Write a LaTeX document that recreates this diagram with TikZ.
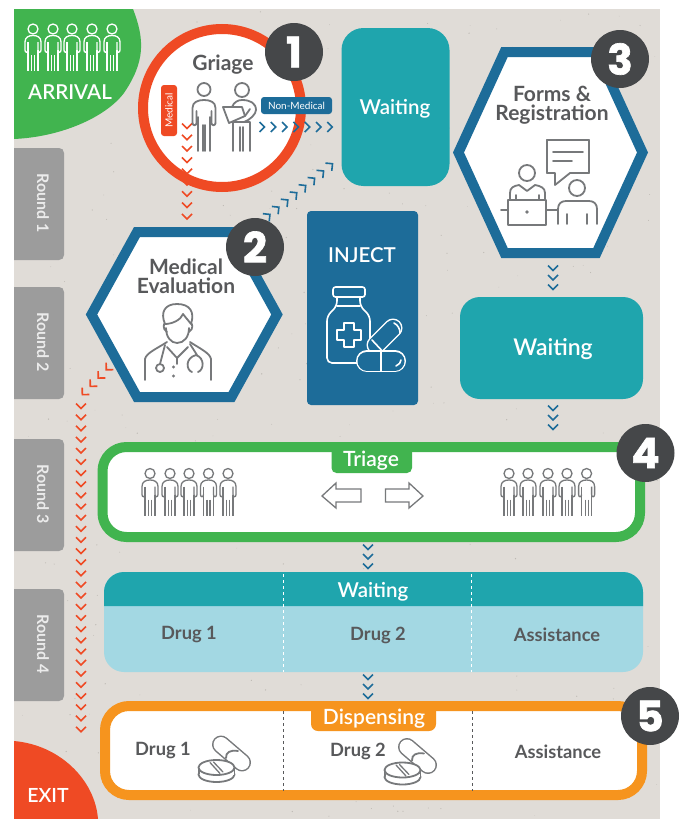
\documentclass[tikz,border=0pt]{standalone}
\usepackage{fontspec}
\setmainfont{Lato}
\newfontfamily\semi{Lato Semibold}
\newfontfamily\numfont{Poppins}[FakeBold=1.6]
\usetikzlibrary{decorations.markings}
\definecolor{bgc}{HTML}{E0DCD7}
\definecolor{speck}{HTML}{BDB9B3}
\definecolor{grn}{HTML}{41B44F}
\definecolor{redc}{HTML}{EF4A24}
\definecolor{bluec}{HTML}{1D6C99}
\definecolor{tealc}{HTML}{1FA5AD}
\definecolor{paleb}{HTML}{A3D8E3}
\definecolor{orangec}{HTML}{F6941E}
\definecolor{badgec}{HTML}{454749}
\definecolor{tabc}{HTML}{9C9C9C}
\definecolor{textc}{HTML}{58595B}
\definecolor{iconc}{HTML}{77797B}
\tikzset{
  x=1pt,y=-1pt,
  label text/.style={inner sep=0pt,text=textc,align=center,font=\fontsize{21}{19}\selectfont\bfseries},
  white text/.style={inner sep=0pt,text=white,font=\semi\fontsize{20.5}{20}\selectfont},
  cell text/.style={inner sep=0pt,text=textc,font=\fontsize{18.3}{18}\selectfont\bfseries},
  badge/.style={circle,fill=badgec,minimum size=58pt,inner sep=0pt,text=white,font=\numfont\fontsize{42}{42}\selectfont\bfseries},
  hexa/.style={draw=bluec,line width=10pt,fill=white,miter limit=10},
  frame/.style={draw=#1,line width=10pt,fill=white,rounded corners=24pt,inner sep=0pt},
  solidbox/.style={fill=#1,inner sep=0pt},
  chain/.style n args={2}{postaction={decorate,decoration={markings,
    mark=between positions 0 and 1 step #2pt with {\draw[#1,line width=1.6pt,line cap=butt,line join=miter] (-2.5,-5)--(2.5,0)--(-2.5,5);}}}},
  icon/.style={draw=iconc,line width=1.8pt,line cap=round,line join=round},
  person/.pic={
    \draw (0,5) circle (5);
    \draw (-5,26) .. controls (-5,29) and (-8,29) .. (-8,26) -- (-8,18) .. controls (-8,13) and (-4,11.5) .. (0,11.5) .. controls (4,11.5) and (8,13) .. (8,18) -- (8,26) .. controls (8,29) and (5,29) .. (5,26) -- (5,18);
    \draw (-5,18) -- (-5,47) (5,26) -- (5,47) (-1.4,31) -- (-1.4,47) (1.6,31) -- (1.6,47);
  },
  drugicon/.pic={
    \draw[iconc,line width=18pt,line cap=round] (4.5,-23) -- (25.5,-5);
    \draw[white,line width=15pt,line cap=round] (4.5,-23) -- (25.5,-5);
    \draw[icon] (9.5,-9.5) .. controls (9,-15) and (14,-18) .. (21.5,-16.5);
    \draw[icon,fill=white] (0,7) ellipse (18 and 7.5);
    \fill[white] (-17,0) rectangle (17,7);
    \draw[icon] (-18,0) -- (-18,7) (18,0) -- (18,7);
    \draw[icon,fill=white] (0,0) ellipse (18 and 7.5);
    \draw[icon,line width=1.3pt] (-6.5,-5) -- (3.5,6) (-3,-5.5) -- (6.5,4.5);
  }
}
\begin{document}
\begin{tikzpicture}
\useasboundingbox (0,0) rectangle (681,819);
\fill[bgc] (14,9) rectangle (660,819);
% speckle texture
\pgfmathsetseed{7}
\foreach \i in {1,...,420}{
  \pgfmathsetmacro\px{16+rnd*642}
  \pgfmathsetmacro\py{11+rnd*806}
  \pgfmathsetmacro\pr{0.25+rnd*0.45}
  \fill[speck] (\px,\py) circle (\pr);
}
% corners
\fill[grn] (14,9) -- (133,9) .. controls (145,40) and (145,62) .. (124,93) .. controls (105,118) and (60,137) .. (14,139) -- cycle;
\fill[redc] (14,819) -- (14,741) .. controls (60,745) and (95,780) .. (98,819) -- cycle;
\foreach \px in {33,53,72,92,112}{
  \pic[draw=white,line width=1.3pt] at (\px,24) {person};
}
\node[white text] (arrival) at (70,92) {ARRIVAL};
\node[white text,font=\semi\fontsize{19.5}{18}\selectfont] (exit) at (48,795) {EXIT};
% round tabs
\foreach \yt/\n in {148/1,287/2,439/3,589/4}{
  \fill[tabc] (14,\yt) -- (59,\yt) .. controls (62,\yt) and (64,\yt+2) .. (64,\yt+5) -- (64,\yt+107) .. controls (64,\yt+110) and (62,\yt+112) .. (59,\yt+112) -- (14,\yt+112) -- cycle;
  \node[inner sep=0pt,rotate=-90,text=white!92!black,font=\fontsize{16}{16}\selectfont\bfseries] (round\n) at (43,\yt+55) {Round \n};
}
% chevron chains end points
\coordinate (medA) at (187,126);
\coordinate (medB) at (187,218);
\coordinate (nmA) at (262,127);
\coordinate (nmB) at (331,127);
\coordinate (diagA) at (268,216);
\coordinate (diagB) at (331,165);
\coordinate (evA) at (108,368);
\coordinate (evB) at (81,396);
\coordinate (evC) at (81,406);
\coordinate (evD) at (81,731);
\coordinate (fA) at (553,268);
\coordinate (fB) at (553,289);
\coordinate (wA) at (553,408);
\coordinate (wB) at (553,429);
\coordinate (tA) at (368,547);
\coordinate (tB) at (368,568);
\coordinate (dA) at (368,677);
\coordinate (dB) at (368,698);
% griage
\node[circle,draw=redc,line width=10pt,fill=white,minimum size=158pt,inner sep=0pt] (griage) at (222,108) {};
\path[chain={redc}{11.3}] (medA) -- (medB);
\path[chain={bluec}{11.3}] (nmA) -- (nmB);
\path[chain={bluec}{11.5}] (diagA) -- (diagB);
\node[label text] (griagetext) at (223,65) {Griage};
\fill[redc,rounded corners=3pt] (161,85) rectangle (177,136);
\node[inner sep=0pt,rotate=90,text=white,font=\fontsize{10}{10}\selectfont] (medtag) at (169,110.5) {Medical};
\fill[bluec,rounded corners=3pt] (261,97) rectangle (332,114);
\node[inner sep=0pt,text=white,font=\fontsize{10}{10}\selectfont] (nonmed) at (296.5,105.5) {Non-Medical};
% griage people
\pic[icon] at (204,83) {code={\draw (0,6.5) circle (6.5);
  \draw (-6,68) -- (-6,34) (6,68) -- (6,34) (-1.3,68) -- (-1.3,42) (1.3,68) -- (1.3,42);
  \draw (-11.5,40) -- (-11.5,25) .. controls (-11.5,19) and (-6,17) .. (0,17) .. controls (6,17) and (11.5,19) .. (11.5,25) -- (11.5,40);
  \draw (-11.5,40) .. controls (-11.5,43) and (-7.5,43) .. (-7.5,40) -- (-7.5,28);
  \draw (11.5,40) .. controls (11.5,43) and (7.5,43) .. (7.5,40) -- (7.5,28);}};
\pic[icon] at (242,83) {code={\draw (0,7) circle (7);
  \draw (-9,68) -- (-9,39) (8,68) -- (8,39) (-2,68) -- (-2,44) (1,68) -- (1,44) (-9,39) -- (8,39);
  \draw (-10,24) .. controls (-8,19) and (-4,17) .. (0,17) .. controls (8,17) and (14,20) .. (14,27) .. controls (14,31) and (8,37) .. (2,39);
  \draw (-19,24) -- (0,24) -- (3,33) -- (-13,40) -- cycle;
  \draw (3,33) -- (8,26);}};
% waiting 1
\node[solidbox=tealc,rounded corners=22pt,minimum width=108pt,minimum height=158pt] (waitA) at (395.5,107) {};
\node[white text] at (395,109) {Waiting};
% hex 3
\draw[hexa] (458.5,152.5) -- (504.5,52) -- (596.5,52) -- (642.5,152.5) -- (596.5,253) -- (504.5,253) -- cycle;
\node[label text] (forms) at (552,105.5) {Forms \&\\Registration};
\draw[icon] (547,140) rectangle (589,173);
\draw[icon,fill=white] (547,140) -- (589,140) -- (589,173) -- (570,173) -- (555,185) -- (555,173) -- (547,173) -- cycle;
\draw[icon] (553,152) -- (583,152) (553,161) -- (572,161);
\draw[icon] (527,173) circle (8);
\draw[icon] (510,200) -- (510,193) .. controls (510,188) and (513,186) .. (519,185) -- (527,191) -- (535,185) .. controls (541,186) and (545,188) .. (545,193) -- (545,200);
\draw[icon] (516,199) -- (516,195) (539,199) -- (539,195);
\draw[icon] (508,200) rectangle (546,225);
\fill[iconc] (527,212) circle (1.8);
\draw[icon] (501,210) -- (508,210) (546,210) -- (558,210);
\draw[icon] (577,188) circle (8);
\draw[icon] (558,224) -- (558,209) .. controls (558,204) and (561,201) .. (566,201) -- (589,201) .. controls (594,201) and (597,204) .. (597,209) -- (597,224);
\draw[icon] (567,214) -- (567,224) (587,214) -- (587,224);
% hex 2
\draw[hexa] (91.5,314.5) -- (137,232) -- (231.5,232) -- (277,314.5) -- (231.5,397) -- (137,397) -- cycle;
\node[label text] (medev) at (186,276) {Medical\\Evaluation};
% doctor
\draw[icon] (165,324) .. controls (160,312) and (165,304) .. (177,304) .. controls (190,304) and (195,312) .. (191,324) .. controls (188,320) and (186,318) .. (183,314) .. controls (181,320) and (172,324) .. (165,324) -- cycle;
\draw[icon] (166,328) .. controls (166,337) and (171,343) .. (177,343) .. controls (184,343) and (189,337) .. (189,328);
\draw[icon] (164,324) .. controls (163,328) and (165,331) .. (167,332) (192,324) .. controls (193,328) and (191,331) .. (189,332);
\draw[icon] (145,380) -- (145,359) .. controls (146,353) and (158,348) .. (167,342);
\draw[icon] (211,380) -- (211,359) .. controls (210,353) and (199,348) .. (190,342);
\draw[icon] (167,347) -- (177,358) -- (188,347);
\draw[icon] (177,358) -- (177,364);
\draw[icon] (165,345) -- (160,364);
\draw[icon] (160,368) circle (4);
\draw[icon] (190,344) -- (197,355);
\draw[icon] (192,372) .. controls (186,370) and (185,358) .. (196,355) .. controls (205,358) and (204,370) .. (198,372);
\fill[iconc] (173.5,367) circle (1.6) (173.5,376) circle (1.6);
% inject
\node[solidbox=bluec,rounded corners=4pt,minimum width=111pt,minimum height=194pt] (inject) at (362.5,308) {};
\node[white text] (injecttext) at (362,255) {INJECT};
\begin{scope}[draw=white,line width=1.6pt,line join=round,line cap=round]
\draw[rounded corners=2.5pt] (333,287) rectangle (365,297);
\draw[rounded corners=5pt] (337,297) -- (337,306) -- (327,316) -- (327,363) -- (370,363) -- (370,316) -- (360,306) -- (360,297);
\draw (337,306) -- (360,306);
\draw (344,323) -- (354,323) -- (354,330) -- (361,330) -- (361,340) -- (354,340) -- (354,347) -- (344,347) -- (344,340) -- (337,340) -- (337,330) -- (344,330) -- cycle;
\draw[white,line width=19pt,line cap=round] (376,345) -- (393,328);
\draw[bluec,line width=16pt,line cap=round] (376,345) -- (393,328);
\draw (372,340) -- (386,355);
\draw (394,323) .. controls (398,325) and (400,329) .. (400,333);
\draw[white,line width=22pt,line cap=round] (367,361) -- (395,361);
\draw[bluec,line width=19pt,line cap=round] (367,361) -- (395,361);
\draw (381,351) -- (381,371);
\draw (396,366) .. controls (399,365) and (401,362) .. (401,360);
\end{scope}
% waiting 2
\node[solidbox=tealc,rounded corners=20pt,minimum width=183pt,minimum height=102pt] (waitB) at (551.5,348) {};
\node[white text,font=\semi\fontsize{23}{21}\selectfont] at (553,349) {Waiting};
% triage
\node[frame=grn,minimum width=537.5pt,minimum height=90pt] (triage) at (371.25,492) {};
\fill[grn,rounded corners=5pt] (331.5,445) -- (331.5,473) -- (412,473) -- (412,445) -- cycle;
\node[white text,font=\semi\fontsize{21}{18}\selectfont] (triagetext) at (371,461) {Triage};
\foreach \px in {150,170,189,208.5,228,509,528,548,567,586.6}{
  \pic[draw=iconc,line width=1.3pt] at (\px,468.5) {person};
}
\draw[draw=iconc,line width=1.3pt] (322,496) -- (336,483) -- (336,489) -- (361,489) -- (361,502) -- (336,502) -- (336,508) -- cycle;
\draw[draw=iconc,line width=1.3pt] (423,496) -- (409,483) -- (409,489) -- (385.5,489) -- (385.5,502) -- (409,502) -- (409,508) -- cycle;
% waiting table
\fill[paleb,rounded corners=20pt] (104,572) rectangle (643,672);
\fill[tealc] (104,606) -- (104,592) .. controls (104,581) and (113,572) .. (124,572) -- (623,572) .. controls (634,572) and (643,581) .. (643,592) -- (643,606) -- cycle;
\draw[white,line width=.8pt,dashed] (283,574) -- (283,672) (471,574) -- (471,672);
\node[white text] (waittable) at (373,592) {Waiting};
\node[cell text] (d1) at (189,635) {Drug 1};
\node[cell text] (d2) at (378,635) {Drug 2};
\node[cell text] (as) at (557,635) {Assistance};
% dispensing
\node[frame=orangec,minimum width=537pt,minimum height=89pt] (disp) at (373.5,750.5) {};
\draw[textc,line width=.8pt,dashed] (283,711) -- (283,791) (472,711) -- (472,791);
\fill[orangec,rounded corners=7pt] (311,704) -- (311,731) -- (436,731) -- (436,704) -- cycle;
\node[white text,font=\semi\fontsize{21}{18}\selectfont] (disptext) at (374,719) {Dispensing};
\node[cell text] (dd1) at (163,751) {Drug 1};
\node[cell text] (dd2) at (358,751) {Drug 2};
\node[cell text] (das) at (558,752) {Assistance};
\pic at (216.5,767.5) {drugicon};
\pic at (402.5,770) {drugicon};
% remaining chains
\path[chain={redc}{11.5}] (evA) -- (evB);
\path[chain={redc}{11.15}] (evC) -- (evD);
\path[chain={bluec}{9.5}] (fA) -- (fB);
\path[chain={bluec}{9.5}] (wA) -- (wB);
\path[chain={bluec}{9.5}] (tA) -- (tB);
\path[chain={bluec}{9.5}] (dA) -- (dB);
% badges
\node[badge] (b1) at (294,52) {1};
\node[badge] (b2) at (255,247) {2};
\node[badge] (b3) at (620,59) {3};
\node[badge] (b4) at (645.5,453) {4};
\node[badge] (b5) at (650,716) {5};
\end{tikzpicture}
\end{document}
